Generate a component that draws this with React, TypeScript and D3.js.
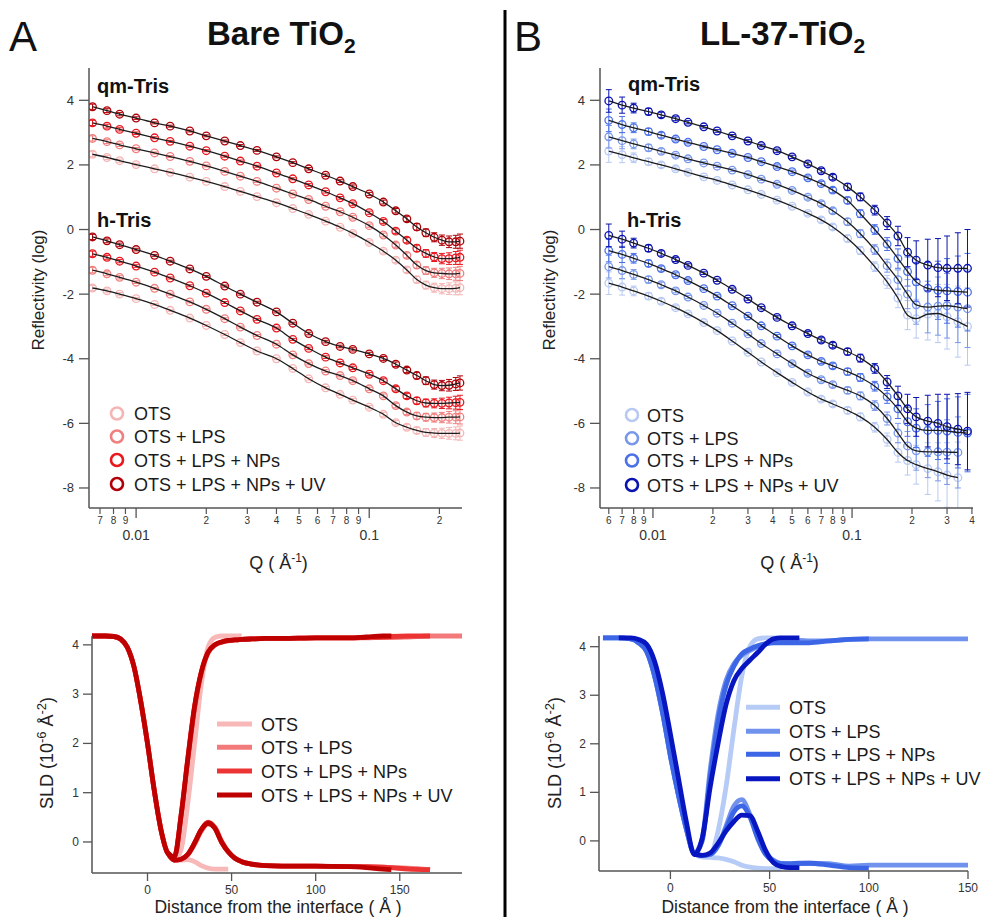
import React from "react";
import * as d3 from "d3";

const FONT = "'Liberation Sans', Arial, Helvetica, sans-serif";

const seriesLabels = ["OTS", "OTS + LPS", "OTS + LPS + NPs", "OTS + LPS + NPs + UV"];
const redPalette = ["#f5b5b5", "#f07f7f", "#e8181f", "#b00008"];
const bluePalette = ["#b8c9f2", "#7a98ea", "#4b70e8", "#0a12b0"];
const redSld = ["#f8b8b8", "#f27a7a", "#ec3434", "#bf0000"];
const blueSld = ["#b6cbf6", "#7092ec", "#3c66e6", "#0716c0"];

// ---------- Panel A reflectivity (log R vs Q) ----------
const qA = [0.0065, 0.0075, 0.0085, 0.01, 0.012, 0.014, 0.017, 0.02, 0.024, 0.028, 0.033, 0.04, 0.047, 0.055, 0.065, 0.075, 0.085, 0.1, 0.115, 0.13, 0.145, 0.16, 0.175, 0.19, 0.205, 0.22, 0.235, 0.245];
const qmA_OTS = [2.33, 2.23, 2.13, 2.01, 1.88, 1.77, 1.62, 1.49, 1.33, 1.18, 1.02, 0.83, 0.65, 0.47, 0.26, 0.07, -0.12, -0.40, -0.67, -0.95, -1.25, -1.55, -1.72, -1.80, -1.83, -1.83, -1.82, -1.80];
const qmA_LPS = [2.82, 2.72, 2.62, 2.50, 2.37, 2.26, 2.11, 1.97, 1.80, 1.65, 1.49, 1.28, 1.10, 0.93, 0.72, 0.55, 0.38, 0.12, -0.17, -0.48, -0.80, -1.10, -1.27, -1.34, -1.36, -1.37, -1.37, -1.36];
const qmA_NPs = [3.30, 3.20, 3.10, 2.98, 2.84, 2.73, 2.58, 2.44, 2.27, 2.12, 1.96, 1.75, 1.57, 1.38, 1.17, 0.98, 0.80, 0.52, 0.25, -0.05, -0.33, -0.58, -0.74, -0.85, -0.90, -0.90, -0.88, -0.86];
const qmA_UV = [3.80, 3.68, 3.57, 3.45, 3.30, 3.20, 3.05, 2.90, 2.74, 2.60, 2.45, 2.25, 2.07, 1.88, 1.68, 1.50, 1.33, 1.10, 0.85, 0.58, 0.33, 0.08, -0.10, -0.24, -0.33, -0.38, -0.38, -0.36];
const hA_OTS = [-1.81, -1.90, -2.00, -2.14, -2.32, -2.50, -2.74, -2.97, -3.25, -3.50, -3.76, -4.00, -4.30, -4.62, -4.90, -5.10, -5.28, -5.50, -5.72, -5.98, -6.12, -6.22, -6.28, -6.30, -6.31, -6.31, -6.31, -6.30];
const hA_LPS = [-1.26, -1.37, -1.48, -1.63, -1.82, -2.00, -2.24, -2.47, -2.76, -3.02, -3.28, -3.55, -3.88, -4.15, -4.38, -4.52, -4.68, -4.93, -5.15, -5.45, -5.65, -5.77, -5.81, -5.82, -5.82, -5.81, -5.81, -5.80];
const hA_NPs = [-0.75, -0.86, -0.98, -1.13, -1.32, -1.50, -1.74, -1.97, -2.26, -2.52, -2.78, -3.05, -3.40, -3.68, -3.95, -4.13, -4.28, -4.48, -4.68, -4.93, -5.15, -5.30, -5.37, -5.38, -5.38, -5.37, -5.36, -5.35];
const hA_UV = [-0.23, -0.35, -0.47, -0.62, -0.80, -0.98, -1.22, -1.45, -1.75, -2.00, -2.25, -2.55, -2.90, -3.22, -3.47, -3.62, -3.71, -3.85, -3.99, -4.17, -4.35, -4.52, -4.68, -4.80, -4.83, -4.82, -4.78, -4.75];
const errA = [0.08, 0.06, 0.05, 0.04, 0.03, 0.03, 0.03, 0.03, 0.03, 0.03, 0.03, 0.03, 0.03, 0.04, 0.04, 0.04, 0.05, 0.05, 0.06, 0.07, 0.08, 0.1, 0.12, 0.14, 0.16, 0.18, 0.2, 0.22];

// ---------- Panel B reflectivity ----------
const qB = [0.006, 0.007, 0.008, 0.0095, 0.011, 0.013, 0.015, 0.018, 0.021, 0.025, 0.03, 0.035, 0.042, 0.05, 0.06, 0.07, 0.08, 0.095, 0.11, 0.13, 0.15, 0.17, 0.19, 0.21, 0.24, 0.27, 0.3, 0.34, 0.38];
const qmB_OTS = [2.43, 2.32, 2.22, 2.10, 2.00, 1.88, 1.77, 1.63, 1.52, 1.38, 1.23, 1.09, 0.91, 0.72, 0.50, 0.30, 0.08, -0.28, -0.65, -1.15, -1.62, -2.12, -2.65, -2.76, -2.62, -2.60, -2.70, -2.85, -3.00];
const qmB_LPS = [2.87, 2.75, 2.65, 2.53, 2.42, 2.30, 2.19, 2.06, 1.96, 1.84, 1.70, 1.56, 1.40, 1.21, 1.00, 0.80, 0.58, 0.24, -0.13, -0.62, -1.12, -1.55, -2.00, -2.33, -2.40, -2.37, -2.36, -2.40, -2.45];
const qmB_NPs = [3.38, 3.25, 3.15, 3.03, 2.92, 2.80, 2.70, 2.57, 2.47, 2.36, 2.23, 2.10, 1.95, 1.79, 1.60, 1.42, 1.22, 0.90, 0.49, 0.00, -0.45, -0.90, -1.30, -1.62, -1.82, -1.88, -1.90, -1.92, -1.94];
const qmB_UV = [3.98, 3.85, 3.76, 3.65, 3.55, 3.43, 3.32, 3.18, 3.05, 2.90, 2.74, 2.60, 2.44, 2.25, 2.03, 1.82, 1.62, 1.32, 1.01, 0.60, 0.20, -0.20, -0.70, -0.95, -1.10, -1.18, -1.20, -1.20, -1.20];
const hB_OTS = [-1.66, -1.78, -1.90, -2.06, -2.22, -2.42, -2.61, -2.88, -3.13, -3.45, -3.80, -4.10, -4.43, -4.73, -5.03, -5.25, -5.40, -5.60, -5.80, -6.12, -6.50, -6.90, -7.15, -7.28, -7.40, -7.50, -7.60, -7.68, null];
const hB_LPS = [-1.15, -1.27, -1.39, -1.55, -1.71, -1.90, -2.09, -2.35, -2.59, -2.90, -3.23, -3.53, -3.85, -4.15, -4.45, -4.65, -4.80, -4.98, -5.15, -5.45, -5.85, -6.30, -6.70, -6.85, -6.88, -6.88, -6.89, -6.90, null];
const hB_NPs = [-0.65, -0.77, -0.89, -1.05, -1.21, -1.40, -1.58, -1.83, -2.06, -2.36, -2.68, -2.98, -3.30, -3.60, -3.88, -4.08, -4.22, -4.40, -4.58, -4.85, -5.18, -5.55, -5.95, -6.15, -6.22, -6.22, -6.24, -6.28, -6.30];
const hB_UV = [-0.18, -0.30, -0.42, -0.58, -0.74, -0.93, -1.11, -1.35, -1.57, -1.85, -2.15, -2.42, -2.72, -2.98, -3.22, -3.42, -3.58, -3.78, -3.98, -4.30, -4.72, -5.15, -5.55, -5.80, -5.93, -6.00, -6.10, -6.18, -6.24];
const errB = [0.35, 0.25, 0.15, 0.1, 0.08, 0.06, 0.05, 0.04, 0.04, 0.04, 0.04, 0.04, 0.05, 0.05, 0.06, 0.07, 0.08, 0.1, 0.12, 0.15, 0.2, 0.3, 0.45, 0.6, 0.8, 0.9, 1.0, 1.1, 1.2];

// ---------- Panel A SLD profiles ----------
const dA = [-33, -25, -20, -16, -12, -8, -4, 0, 4, 8, 12, 16, 20, 24, 28, 32, 36, 40, 44, 48, 52, 56, 62, 70, 80, 100, 120, 130, 140, 145, 155, 168, 187];
const sldA_OTS_up = [4.18, 4.18, 4.17, 4.12, 3.95, 3.55, 2.85, 2.0, 1.05, 0.25, -0.22, -0.37, -0.15, 0.8, 2.0, 3.2, 3.95, 4.15, 4.18, 4.18, 4.18, 4.18, null, null, null, null, null, null, null, null, null, null, null];
const sldA_OTS_lo = [null, null, null, null, null, null, null, null, null, null, -0.22, -0.37, -0.37, -0.36, -0.4, -0.48, -0.53, -0.55, -0.55, -0.55, null, null, null, null, null, null, null, null, null, null, null, null, null];
const sldA_LPS_up = [4.18, 4.18, 4.17, 4.12, 3.95, 3.55, 2.85, 2.0, 1.05, 0.25, -0.22, -0.30, 0.5, 1.65, 2.7, 3.42, 3.83, 3.99, 4.05, 4.08, 4.1, 4.11, 4.12, 4.13, 4.13, 4.14, 4.14, 4.14, 4.15, 4.15, 4.16, 4.18, 4.18];
const sldA_LPS_lo = [null, null, null, null, null, null, null, null, null, null, -0.22, -0.37, -0.35, -0.26, -0.05, 0.22, 0.36, 0.3, 0.02, -0.2, -0.33, -0.4, -0.45, -0.48, -0.49, -0.49, -0.5, -0.5, -0.51, -0.52, -0.53, -0.56, null];
const sldA_NPs_up = [4.18, 4.18, 4.17, 4.12, 3.95, 3.55, 2.85, 2.0, 1.05, 0.25, -0.22, -0.30, 0.55, 1.7, 2.75, 3.45, 3.85, 4.0, 4.06, 4.09, 4.1, 4.11, 4.12, 4.13, 4.13, 4.14, 4.14, 4.15, 4.16, 4.17, 4.18, 4.18, null];
const sldA_NPs_lo = [null, null, null, null, null, null, null, null, null, null, -0.22, -0.37, -0.35, -0.25, -0.02, 0.25, 0.4, 0.29, 0.0, -0.2, -0.33, -0.4, -0.45, -0.48, -0.49, -0.49, -0.5, -0.5, -0.51, -0.52, -0.55, -0.56, null];
const sldA_UV_up = [4.18, 4.18, 4.17, 4.12, 3.95, 3.55, 2.85, 2.0, 1.05, 0.25, -0.22, -0.30, 0.55, 1.7, 2.75, 3.45, 3.85, 4.0, 4.06, 4.09, 4.1, 4.11, 4.12, 4.13, 4.13, 4.14, 4.14, 4.16, 4.18, 4.18, null, null, null];
const sldA_UV_lo = [null, null, null, null, null, null, null, null, null, null, -0.22, -0.37, -0.35, -0.25, -0.02, 0.25, 0.38, 0.28, 0.0, -0.2, -0.33, -0.4, -0.45, -0.48, -0.49, -0.49, -0.5, -0.52, -0.55, -0.56, null, null, null];

// ---------- Panel B SLD profiles ----------
const dB = [-34, -26, -20, -16, -12, -8, -4, 0, 4, 8, 12, 16, 20, 24, 28, 32, 36, 40, 44, 48, 52, 56, 60, 65, 70, 80, 90, 100, 120, 150];
const sldB_OTS_up = [4.18, 4.18, 4.16, 4.08, 3.9, 3.4, 2.65, 1.75, 0.95, 0.25, -0.25, -0.33, -0.3, 0.2, 1.1, 2.3, 3.4, 4.0, 4.16, 4.18, 4.18, 4.18, null, null, null, null, null, null, null, null];
const sldB_OTS_lo = [null, null, null, null, null, null, null, null, null, null, -0.25, -0.33, -0.34, -0.35, -0.38, -0.43, -0.5, -0.54, -0.56, -0.57, -0.57, -0.57, null, null, null, null, null, null, null, null];
const sldB_LPS_up = [4.18, 4.18, 4.16, 4.08, 3.9, 3.4, 2.65, 1.75, 0.95, 0.25, -0.25, 0.05, 1.45, 2.6, 3.3, 3.65, 3.82, 3.92, 4.0, 4.06, 4.1, 4.12, 4.13, 4.13, 4.12, 4.12, 4.15, 4.16, 4.16, 4.16];
const sldB_LPS_lo = [null, null, null, null, null, null, null, null, null, null, -0.25, -0.3, -0.28, -0.1, 0.3, 0.72, 0.85, 0.55, 0.1, -0.25, -0.4, -0.47, -0.48, -0.47, -0.46, -0.47, -0.52, -0.5, -0.5, -0.5];
const sldB_NPs_up = [4.18, 4.18, 4.16, 4.08, 3.9, 3.4, 2.65, 1.75, 0.95, 0.25, -0.25, 0.0, 1.3, 2.45, 3.2, 3.6, 3.85, 3.95, 4.02, 4.06, 4.08, 4.08, 4.08, 4.08, 4.08, 4.12, 4.15, 4.16, null, null];
const sldB_NPs_lo = [null, null, null, null, null, null, null, null, null, null, -0.25, -0.3, -0.28, -0.1, 0.25, 0.6, 0.72, 0.5, 0.05, -0.28, -0.42, -0.47, -0.47, -0.46, -0.46, -0.5, -0.55, -0.56, null, null];
const sldB_UV_up = [null, 4.18, 4.18, 4.15, 4.05, 3.7, 3.05, 2.2, 1.3, 0.4, -0.28, 0.05, 1.1, 2.0, 2.8, 3.3, 3.55, 3.72, 3.88, 4.05, 4.16, 4.18, 4.18, 4.18, null, null, null, null, null, null];
const sldB_UV_lo = [null, null, null, null, null, null, null, null, null, null, -0.28, -0.3, -0.25, -0.05, 0.2, 0.4, 0.53, 0.52, 0.2, -0.2, -0.45, -0.53, -0.55, -0.55, null, null, null, null, null, null];

const reflYTicks = [-8, -6, -4, -2, 0, 2, 4];
const majorQ = [0.01, 0.1];
const minorQA = [0.007, 0.008, 0.009, 0.02, 0.03, 0.04, 0.05, 0.06, 0.07, 0.08, 0.09, 0.2];
const minorQB = [0.006, 0.007, 0.008, 0.009, 0.02, 0.03, 0.04, 0.05, 0.06, 0.07, 0.08, 0.09, 0.2, 0.3, 0.4];
const sldYTicks = [0, 1, 2, 3, 4];
const sldXTicks = [0, 50, 100, 150];

const AX = "#555";
const TXT = "#333";

type Pt = [number, number];
function pairs(xs: number[], ys: (number | null)[]): Pt[] {
  const out: Pt[] = [];
  xs.forEach((x, i) => {
    const v = ys[i];
    if (v !== null && v !== undefined) out.push([x, v]);
  });
  return out;
}

type ReflProps = {
  id: string;
  left: number; right: number; top: number; bottom: number;
  qDomain: [number, number];
  q: number[];
  qm: (number | null)[][];
  h: (number | null)[][];
  err: number[];
  colors: string[];
  minor: number[];
  yLabelX: number;
  qmLabel: [number, number];
  hLabel: [number, number];
  legendX: number;
  legendTextX: number;
  legendRows: number[];
};

function ReflPanel(p: ReflProps) {
  const x = d3.scaleLog().domain(p.qDomain).range([p.left, p.right]);
  const y = d3.scaleLinear().domain([-8.62, 5.0]).range([p.bottom, p.top]);
  const line = d3.line<Pt>().x((d) => x(d[0])).y((d) => y(d[1])).curve(d3.curveMonotoneX);
  const order = [0, 1, 2, 3];
  const sets = order.flatMap((i) => [
    { i, pts: pairs(p.q, p.qm[i]) },
    { i, pts: pairs(p.q, p.h[i]) },
  ]);
  const errOf = (qv: number) => p.err[p.q.indexOf(qv)];
  const cx = (p.left + p.right) / 2;
  return (
    <g>
      <defs>
        <clipPath id={p.id}>
          <rect x={p.left} y={p.top} width={p.right - p.left + 4} height={p.bottom - p.top} />
        </clipPath>
      </defs>
      <g clipPath={`url(#${p.id})`}>
        {sets.map((s, k) => (
          <g key={"d" + k} stroke={p.colors[s.i]} fill="none">
            {s.pts.map((d, j) => {
              const e = errOf(d[0]);
              const px = x(d[0]);
              const y1 = y(d[1] - e);
              const y2 = y(d[1] + e);
              return (
                <g key={j}>
                  <line x1={px} x2={px} y1={y1} y2={y2} strokeWidth={1} />
                  <line x1={px - 3} x2={px + 3} y1={y1} y2={y1} strokeWidth={1} />
                  <line x1={px - 3} x2={px + 3} y1={y2} y2={y2} strokeWidth={1} />
                  <circle cx={px} cy={y(d[1])} r={3.8} strokeWidth={1.3} />
                </g>
              );
            })}
          </g>
        ))}
        {sets.map((s, k) => (
          <path key={"f" + k} d={line(s.pts) || ""} fill="none" stroke="#1c1c1c" strokeWidth={1.3} />
        ))}
      </g>
      {/* axes */}
      <line x1={p.left} x2={p.left} y1={p.top} y2={p.bottom} stroke={AX} strokeWidth={1.5} />
      <line x1={p.left} x2={p.right} y1={p.bottom} y2={p.bottom} stroke={AX} strokeWidth={1.5} />
      {reflYTicks.map((t) => (
        <g key={"yt" + t}>
          <line x1={p.left - 10} x2={p.left} y1={y(t)} y2={y(t)} stroke={AX} strokeWidth={1.3} />
          <text x={p.left - 15} y={y(t) + 4.5} textAnchor="end" fontSize={13} fill={TXT}>{t}</text>
        </g>
      ))}
      {p.minor.map((t) => (
        <g key={"mx" + t}>
          <line x1={x(t)} x2={x(t)} y1={p.bottom} y2={p.bottom + 6} stroke={AX} strokeWidth={1.2} />
          <text x={x(t)} y={p.bottom + 16} textAnchor="middle" fontSize={10} fill={TXT}>
            {Math.round(t / Math.pow(10, Math.floor(Math.log10(t) + 1e-9)))}
          </text>
        </g>
      ))}
      {majorQ.map((t) => (
        <g key={"Mx" + t}>
          <line x1={x(t)} x2={x(t)} y1={p.bottom} y2={p.bottom + 10} stroke={AX} strokeWidth={1.3} />
          <text x={x(t)} y={p.bottom + 32} textAnchor="middle" fontSize={14} fill={TXT}>{t}</text>
        </g>
      ))}
      <text x={cx + 3} y={569} textAnchor="middle" fontSize={18} fill="#222">
        Q ( Å<tspan dy={-7} fontSize={12}>-1</tspan><tspan dy={7}>)</tspan>
      </text>
      <text transform={`translate(${p.yLabelX},290) rotate(-90)`} textAnchor="middle" fontSize={17} fill="#222">
        Reflectivity (log)
      </text>
      <text x={p.qmLabel[0]} y={p.qmLabel[1]} fontSize={20} fontWeight="bold" fill="#111">qm-Tris</text>
      <text x={p.hLabel[0]} y={p.hLabel[1]} fontSize={20} fontWeight="bold" fill="#111">h-Tris</text>
      {seriesLabels.map((s, i) => (
        <g key={"lg" + i}>
          <circle cx={p.legendX} cy={p.legendRows[i]} r={6} fill="none" stroke={p.colors[i]} strokeWidth={2.6} />
          <text x={p.legendTextX} y={p.legendRows[i] + 6.5} fontSize={18} fill="#1a1a1a">{s}</text>
        </g>
      ))}
    </g>
  );
}

type SldProps = {
  left: number; right: number; top: number; bottom: number;
  xDomain: [number, number];
  yDomain: [number, number];
  d: number[];
  ups: (number | null)[][];
  los: (number | null)[][];
  colors: string[];
  yLabelX: number;
  xLabelX: number;
  legendX1: number; legendX2: number; legendTextX: number; legendRows: number[];
};

function SldPanel(p: SldProps) {
  const x = d3.scaleLinear().domain(p.xDomain).range([p.left, p.right]);
  const y = d3.scaleLinear().domain(p.yDomain).range([p.bottom, p.top]);
  const line = d3.line<Pt>().x((d) => x(d[0])).y((d) => y(d[1])).curve(d3.curveMonotoneX);
  return (
    <g>
      {[0, 1, 2, 3].map((i) => (
        <g key={i} fill="none" stroke={p.colors[i]} strokeWidth={4.8} strokeLinejoin="round">
          <path d={line(pairs(p.d, p.ups[i])) || ""} />
          <path d={line(pairs(p.d, p.los[i])) || ""} />
        </g>
      ))}
      <line x1={p.left} x2={p.left} y1={p.top} y2={p.bottom} stroke={AX} strokeWidth={1.5} />
      <line x1={p.left} x2={p.right} y1={p.bottom} y2={p.bottom} stroke={AX} strokeWidth={1.5} />
      {sldYTicks.map((t) => (
        <g key={"y" + t}>
          <line x1={p.left - 9} x2={p.left} y1={y(t)} y2={y(t)} stroke={AX} strokeWidth={1.3} />
          <text x={p.left - 13} y={y(t) + 4} textAnchor="end" fontSize={12} fill={TXT}>{t}</text>
        </g>
      ))}
      {sldXTicks.map((t) => (
        <g key={"x" + t}>
          <line x1={x(t)} x2={x(t)} y1={p.bottom} y2={p.bottom + 8} stroke={AX} strokeWidth={1.3} />
          <text x={x(t)} y={p.bottom + 21} textAnchor="middle" fontSize={12} fill={TXT}>{t}</text>
        </g>
      ))}
      <text x={p.xLabelX} y={913} textAnchor="middle" fontSize={17.5} fill="#222">
        Distance from the interface ( Å )
      </text>
      <text transform={`translate(${p.yLabelX},753) rotate(-90)`} textAnchor="middle" fontSize={18} fill="#222">
        SLD (10<tspan dy={-7} fontSize={13}>-6</tspan><tspan dy={7}> Å</tspan>
        <tspan dy={-7} fontSize={13}>-2</tspan><tspan dy={7}>)</tspan>
      </text>
      {seriesLabels.map((s, i) => (
        <g key={"lg" + i}>
          <line x1={p.legendX1} x2={p.legendX2} y1={p.legendRows[i]} y2={p.legendRows[i]} stroke={p.colors[i]} strokeWidth={5} />
          <text x={p.legendTextX} y={p.legendRows[i] + 6.5} fontSize={18} fill="#1a1a1a">{s}</text>
        </g>
      ))}
    </g>
  );
}

export default function App() {
  return (
    <svg
      width={985}
      height={917}
      viewBox="0 0 985 917"
      style={{ position: "absolute", left: 0, top: 0, background: "#fff", fontFamily: FONT }}
      fontFamily={FONT}
    >
      <rect x={0} y={0} width={985} height={917} fill="#fff" />
      {/* headings */}
      <text x={9} y={51} fontSize={42} fill="#111">A</text>
      <text x={514} y={51} fontSize={42} fill="#111">B</text>
      <text x={207} y={45} fontSize={33} fontWeight="bold" fill="#111">
        Bare TiO<tspan dy={8} fontSize={21}>2</tspan>
      </text>
      <text x={700} y={45} fontSize={33} fontWeight="bold" fill="#111">
        LL-37-TiO<tspan dy={8} fontSize={21}>2</tspan>
      </text>
      <line x1={505} x2={505} y1={10} y2={917} stroke="#000" strokeWidth={3} />

      <ReflPanel
        id="clipA"
        left={89} right={462} top={68} bottom={508}
        qDomain={[0.00628, 0.25]}
        q={qA}
        qm={[qmA_OTS, qmA_LPS, qmA_NPs, qmA_UV]}
        h={[hA_OTS, hA_LPS, hA_NPs, hA_UV]}
        err={errA}
        colors={redPalette}
        minor={minorQA}
        yLabelX={44}
        qmLabel={[97, 93]}
        hLabel={[97, 227]}
        legendX={117}
        legendTextX={134}
        legendRows={[413.5, 436.5, 460, 484]}
      />
      <ReflPanel
        id="clipB"
        left={600} right={973} top={68} bottom={508}
        qDomain={[0.00542, 0.405]}
        q={qB}
        qm={[qmB_OTS, qmB_LPS, qmB_NPs, qmB_UV]}
        h={[hB_OTS, hB_LPS, hB_NPs, hB_UV]}
        err={errB}
        colors={bluePalette}
        minor={minorQB}
        yLabelX={555}
        qmLabel={[628, 91]}
        hLabel={[627, 227]}
        legendX={632}
        legendTextX={647}
        legendRows={[415, 438.3, 460.5, 485]}
      />
      <SldPanel
        left={92} right={462} top={636} bottom={873}
        xDomain={[-33, 187]}
        yDomain={[-0.63, 4.18]}
        d={dA}
        ups={[sldA_OTS_up, sldA_LPS_up, sldA_NPs_up, sldA_UV_up]}
        los={[sldA_OTS_lo, sldA_LPS_lo, sldA_NPs_lo, sldA_UV_lo]}
        colors={redSld}
        yLabelX={53}
        xLabelX={278}
        legendX1={217} legendX2={252} legendTextX={261}
        legendRows={[724, 747.3, 771, 795]}
      />
      <SldPanel
        left={599} right={968} top={636} bottom={871}
        xDomain={[-36, 150]}
        yDomain={[-0.62, 4.22]}
        d={dB}
        ups={[sldB_OTS_up, sldB_LPS_up, sldB_NPs_up, sldB_UV_up]}
        los={[sldB_OTS_lo, sldB_LPS_lo, sldB_NPs_lo, sldB_UV_lo]}
        colors={blueSld}
        yLabelX={561}
        xLabelX={785}
        legendX1={746} legendX2={780} legendTextX={789}
        legendRows={[707.3, 731.3, 754.3, 778.7]}
      />
    </svg>
  );
}
